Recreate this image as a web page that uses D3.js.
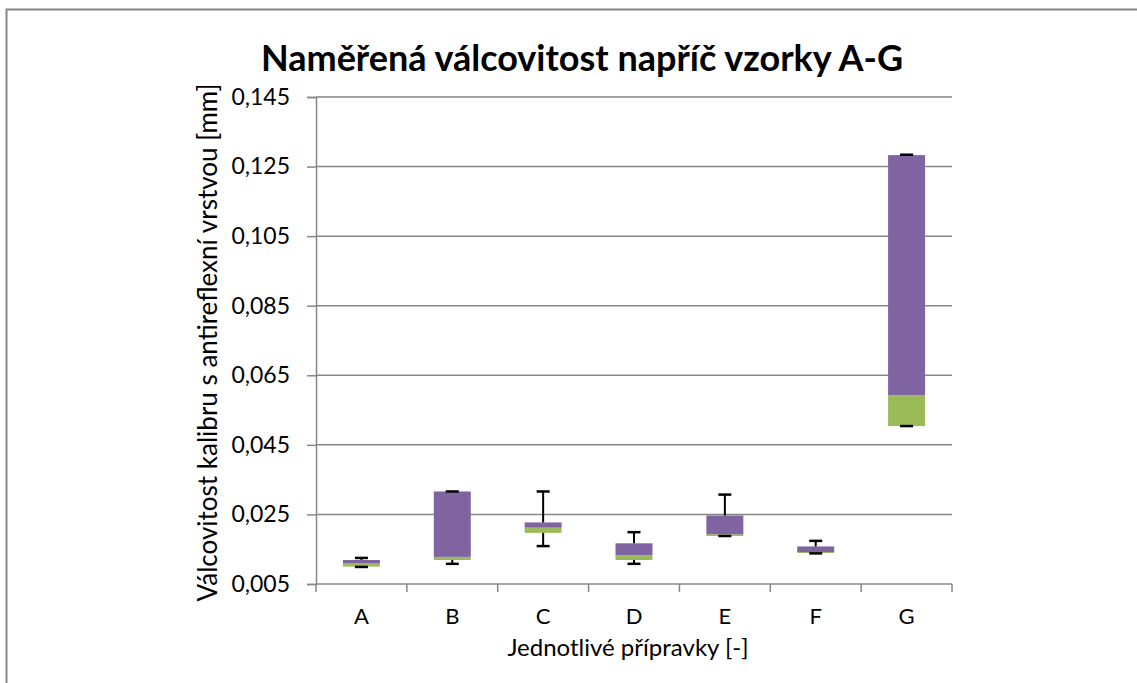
<!DOCTYPE html>
<html>
<head>
<meta charset="utf-8">
<script src="https://cdn.jsdelivr.net/npm/d3@7"></script>
<style>
  body { margin: 0; background: #fff; }
  svg { display: block; font-family: Lato, "Open Sans", sans-serif; }
  .axis text { fill: #000; font-family: Lato, "Open Sans", sans-serif; }
  .y-axis text { font-size: 23px; }
  .x-axis text { font-size: 22px; }
  .axis path, .axis line { stroke: #878787; stroke-width: 1.5; }
  .grid line { stroke: #878787; stroke-width: 1.5; }
</style>
</head>
<body>
<div id="chart"></div>
<script>
// Box plot built from stacked bars (Excel style): Q1..median green, median..Q3 purple

const categories = ["A", "B", "C", "D", "E", "F", "G"];
const minVals    = [0.0099, 0.0108, 0.0159, 0.0108, 0.0188, 0.0138, 0.0504];
const q1Vals     = [0.0100, 0.0119, 0.0197, 0.0119, 0.0188, 0.0139, 0.0504];
const medianVals = [0.0109, 0.0128, 0.0212, 0.0133, 0.0193, 0.0142, 0.0593];
const q3Vals     = [0.0119, 0.0316, 0.0227, 0.0167, 0.0247, 0.0158, 0.1283];
const maxVals    = [0.0125, 0.0316, 0.0316, 0.0199, 0.0307, 0.0174, 0.1284];
const yTicks = [0.005, 0.025, 0.045, 0.065, 0.085, 0.105, 0.125, 0.145];

const width = 1137;
const height = 683;
const margin = { top: 97, right: 185, bottom: 99, left: 316 };
const innerWidth = width - margin.left - margin.right;
const innerHeight = height - margin.top - margin.bottom;

const data = categories.map((c, i) => ({
    cat: c, min: minVals[i], q1: q1Vals[i], median: medianVals[i], q3: q3Vals[i], max: maxVals[i]
}));

const svg = d3.select("#chart").append("svg")
    .attr("width", width)
    .attr("height", height);

// chart frame (right and bottom edges fall outside the picture)
svg.append("path")
    .attr("d", `M6.5,${height}V9.5H${width}`)
    .attr("fill", "none")
    .attr("stroke", "#868686")
    .attr("stroke-width", 2);

const g = svg.append("g")
    .attr("transform", `translate(${margin.left},${margin.top})`);

const padIn = 0.593;
const x = d3.scaleBand()
    .domain(categories)
    .range([0, innerWidth])
    .paddingInner(padIn)
    .paddingOuter(padIn / 2);

const y = d3.scaleLinear()
    .domain([yTicks[0], yTicks[yTicks.length - 1]])
    .range([innerHeight, 0]);

// gridlines
g.append("g")
    .attr("class", "grid")
    .selectAll("line")
    .data(yTicks.slice(1))
    .join("line")
    .attr("x1", 0).attr("x2", innerWidth)
    .attr("y1", d => y(d)).attr("y2", d => y(d));

// Y axis
g.append("g")
    .attr("class", "axis y-axis")
    .call(d3.axisLeft(y)
        .tickValues(yTicks)
        .tickFormat(d => d3.format(".3f")(d).replace(".", ","))
        .tickSize(9)
        .tickPadding(17));

// X axis: labels only, ticks placed between categories
const xAxis = g.append("g")
    .attr("class", "axis x-axis")
    .attr("transform", `translate(0,${innerHeight})`)
    .call(d3.axisBottom(x).tickSize(0).tickPadding(24));
xAxis.select(".domain").attr("d", `M0,0H${innerWidth}`);

xAxis.selectAll(".sep")
    .data(d3.range(categories.length + 1))
    .join("line")
    .attr("class", "sep")
    .attr("x1", i => i * x.step()).attr("x2", i => i * x.step())
    .attr("y1", 0).attr("y2", 8);

// boxes
const bw = x.bandwidth();
g.selectAll(".box-low")
    .data(data)
    .join("rect")
    .attr("class", "box-low")
    .attr("x", d => x(d.cat))
    .attr("width", bw)
    .attr("y", d => y(d.median))
    .attr("height", d => y(d.q1) - y(d.median))
    .attr("fill", "#9bbb59");

g.selectAll(".box-high")
    .data(data)
    .join("rect")
    .attr("class", "box-high")
    .attr("x", d => x(d.cat))
    .attr("width", bw)
    .attr("y", d => y(d.q3))
    .attr("height", d => y(d.median) - y(d.q3))
    .attr("fill", "#8064a2");

// whiskers
const capHalf = 6.5;
const whisk = g.append("g")
    .attr("stroke", "#000");

data.forEach(d => {
    const cx = x(d.cat) + bw / 2;
    [[d.q3, d.max], [d.q1, d.min]].forEach(([from, to]) => {
        whisk.append("line")
            .attr("stroke-width", 2)
            .attr("x1", cx).attr("x2", cx)
            .attr("y1", y(from)).attr("y2", y(to));
        whisk.append("line")
            .attr("stroke-width", 2.5)
            .attr("x1", cx - capHalf).attr("x2", cx + capHalf)
            .attr("y1", y(to)).attr("y2", y(to));
    });
});

// title
svg.append("text")
    .attr("x", 582)
    .attr("y", 71)
    .attr("text-anchor", "middle")
    .attr("font-size", 36)
    .attr("font-weight", "bold")
    .text("Naměřená válcovitost napříč vzorky A-G");

// axis titles
svg.append("text")
    .attr("transform", `translate(217,${margin.top + innerHeight / 2 + 2}) rotate(-90)`)
    .attr("text-anchor", "middle")
    .attr("font-size", 26)
    .text("Válcovitost kalibru s antireflexní vrstvou [mm]");

svg.append("text")
    .attr("x", 628)
    .attr("y", 656)
    .attr("text-anchor", "middle")
    .attr("font-size", 24)
    .text("Jednotlivé přípravky [-]");
</script>
</body>
</html>
